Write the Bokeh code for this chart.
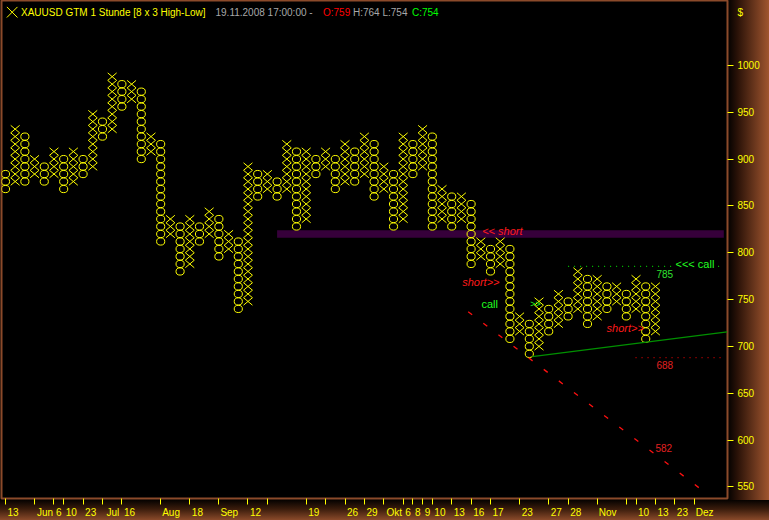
from bokeh.plotting import figure
from bokeh.models import Range1d, FixedTicker, Label
from bokeh.embed import file_html
from bokeh.resources import INLINE

BOX = 8  # box size in dollars (8 x 3 High-Low)

# Point & figure columns: kind, lowest box, highest box (box centres in $)
col_kind = ["O", "X", "O", "X", "O", "X", "O", "X", "O", "X",
            "O", "X", "O", "X", "O", "X", "O", "X", "O", "X",
            "O", "X", "O", "X", "O", "X", "O", "X", "O", "X",
            "O", "X", "O", "X", "O", "X", "O", "X", "O", "X",
            "O", "X", "O", "X", "O", "X", "O", "X", "O", "X",
            "O", "X", "O", "X", "O", "X", "O", "X", "O", "X",
            "O", "X", "O", "X", "O", "X", "O", "X"]
col_low = [868, 876, 876, 884, 876, 884, 868, 876, 884, 892,
           924, 932, 956, 964, 900, 908, 812, 820, 780, 788,
           812, 820, 796, 804, 740, 748, 860, 868, 860, 868,
           828, 836, 884, 892, 868, 876, 876, 884, 860, 868,
           828, 836, 884, 892, 828, 836, 828, 836, 788, 796,
           780, 788, 708, 716, 692, 700, 716, 724, 732, 740,
           724, 732, 740, 748, 732, 740, 708, 716]
col_high = [884, 932, 924, 900, 892, 908, 900, 908, 900, 948,
            940, 988, 980, 980, 972, 924, 916, 836, 828, 836,
            828, 844, 836, 820, 812, 892, 884, 884, 876, 916,
            908, 908, 900, 908, 900, 916, 908, 924, 916, 892,
            884, 924, 916, 932, 924, 868, 860, 860, 852, 812,
            804, 812, 804, 732, 724, 748, 740, 756, 748, 780,
            772, 772, 764, 764, 756, 772, 764, 764]

# Date ticks on the column axis ("" = tick without a label)
date_cols = [0, 3, 5, 6, 8, 10, 12, 16, 19, 22, 25, 27, 31, 33, 35, 37, 39,
             41, 42, 43, 44, 46, 48, 50, 53, 56, 58, 61, 64, 65, 67, 69, 71]
date_text = ["13", "Jun", "6", "10", "23", "Jul", "16", "Aug", "18", "Sep", "12", "",
             "19", "", "26", "29", "Okt", "6", "8", "9", "10", "13", "16", "17",
             "23", "27", "28", "Nov", "", "10", "13", "23", "Dez"]

price_ticks = [550, 600, 650, 700, 750, 800, 850, 900, 950, 1000]
currency = "$"

# Signal levels and trend lines
band_from, band_low, band_high = 28, 816, 824
call_level, call_from = 785.5, 58.0
stop_level, stop_from = 688, 64.95
support_x, support_y = [54.3, 74.4], [689, 715.6]
resist_x, resist_y = [47.7, 72.0], [737, 545]

YELLOW = "#FFFF00"
FONT = "Liberation Sans"
COL_PX = 9.7          # pixels per column
CHAR_PX = 5.6         # approx. width of one label character at 10px
HEADER_Y = 1056.8     # price level of the header line

# expand the columns into single boxes
ox, oy = [], []
x0, y0, x1, y1 = [], [], [], []
for i, (kind, lo, hi) in enumerate(zip(col_kind, col_low, col_high)):
    for price in range(lo, hi + 1, BOX):
        if kind == "O":
            ox.append(i)
            oy.append(price)
        else:
            h = BOX / 2
            x0 += [i - 0.46, i - 0.46]
            y0 += [price - h, price + h]
            x1 += [i + 0.46, i + 0.46]
            y1 += [price + h, price - h]

XMAX = 74.43
p = figure(width=769, height=520, output_backend="svg", toolbar_location=None,
           x_range=Range1d(-0.41, XMAX), y_range=Range1d(537.6, 1069.3),
           y_axis_location="right",
           min_border_left=1, min_border_right=42, min_border_top=0, min_border_bottom=21,
           background_fill_color="black", border_fill_alpha=0,
           outline_line_color="#8B4A2A", outline_line_width=2)
p.styles = {
    "background": "linear-gradient(to bottom, #050200 0%, #3a1c0c 45%, #8a4a2a 100%) left bottom / 100% 20px no-repeat, "
                  "linear-gradient(to right, #000000 0%, #2a1208 25%, #a0552e 100%) right top / 42px 100% no-repeat, "
                  "#000000"
}
p.grid.visible = False

# support/resistance band
p.quad(left=[band_from], right=[74.05], bottom=[band_low], top=[band_high],
       fill_color="#36003a", line_color=None)

# boxes
p.ellipse(x=ox, y=oy, width=0.84, height=7.7, fill_color=None,
          line_color=YELLOW, line_width=1)
p.segment(x0=x0, y0=y0, x1=x1, y1=y1, line_color=YELLOW, line_width=1)

# trend lines and levels
p.line(support_x, support_y, line_color="#009000", line_width=1.3)
p.line(resist_x, resist_y, line_color="#FF1010", line_width=1.3, line_dash="5 14")
p.line([call_from, 74.05], [call_level, call_level], line_color="#00C800",
       line_width=1.2, line_dash="1 5")
p.line([stop_from, 74.05], [stop_level, stop_level], line_color="#D00000",
       line_width=1.2, line_dash="1 5")

# header icon
p.scatter([0.69], [HEADER_Y], marker="x", size=15, line_color=YELLOW, line_width=1)


def note(text, x, y, color, size="11px", style="normal", bg=None):
    p.add_layout(Label(x=x, y=y, text=text, text_color=color, text_font=FONT,
                       text_font_size=size, text_font_style=style,
                       text_align="left", text_baseline="middle",
                       background_fill_color=bg))


# header line
note("XAUUSD GTM 1 Stunde [8 x 3 High-Low]", 1.6, HEADER_Y, YELLOW, "10px")
note("19.11.2008 17:00:00 -", 21.65, HEADER_Y, "#A8A8A8", "10px")
note("O:759", 32.73, HEADER_Y, "#FF0000", "10px")
note("H:764 L:754", 35.82, HEADER_Y, "#A8A8A8", "10px")
note("C:754", 41.9, HEADER_Y, "#00FF00", "10px")

# signal notes
note("<< short", 49.14, 823.1, "#FF1A1A", style="italic")
note("short>>", 47.08, 768.8, "#FF1A1A", style="italic")
note("short>>", 61.96, 720.0, "#FF1A1A", style="italic")
note("call", 49.07, 745.3, "#20FF20")
note(">>", 54.1, 744.8, "#20FF20", "9px")
note("<<< call", 69.07, 788.5, "#20FF20", bg="black")
note("785", 67.1, 777.3, "#30E030", "10px")
note("688", 67.1, 679.8, "#E02020", "10px")
note("582", 67.0, 591.9, "#E02020", "10px")

# price axis on the right: marks as minor ticks, labels on the majors
ya = p.yaxis[0]
ya.ticker = FixedTicker(ticks=price_ticks + [HEADER_Y], minor_ticks=price_ticks)
ya.major_label_overrides = {HEADER_Y: currency}
ya.axis_line_color = None
ya.major_tick_in = 0
ya.major_tick_out = 0
ya.major_tick_line_color = None
ya.minor_tick_in = 0
ya.minor_tick_out = 6
ya.minor_tick_line_color = YELLOW
ya.major_label_text_color = YELLOW
ya.major_label_text_font = FONT
ya.major_label_text_font_size = "10px"
ya.major_label_standoff = 4

# date axis: tick marks at the date columns, each label set just right of its tick
label_x = [c + (2 + len(t) * CHAR_PX / 2) / COL_PX for c, t in zip(date_cols, date_text) if t]
label_s = [t for t in date_text if t]
xa = p.xaxis[0]
xa.ticker = FixedTicker(ticks=label_x, minor_ticks=date_cols)
xa.major_label_overrides = {x: t for x, t in zip(label_x, label_s)}
xa.axis_line_color = None
xa.major_tick_in = 0
xa.major_tick_out = 0
xa.major_tick_line_color = None
xa.minor_tick_in = 0
xa.minor_tick_out = 6
xa.minor_tick_line_color = YELLOW
xa.major_label_text_color = YELLOW
xa.major_label_text_font = FONT
xa.major_label_text_font_size = "10px"
xa.major_label_standoff = 2

open("out.html", "w").write(file_html(p, INLINE))
